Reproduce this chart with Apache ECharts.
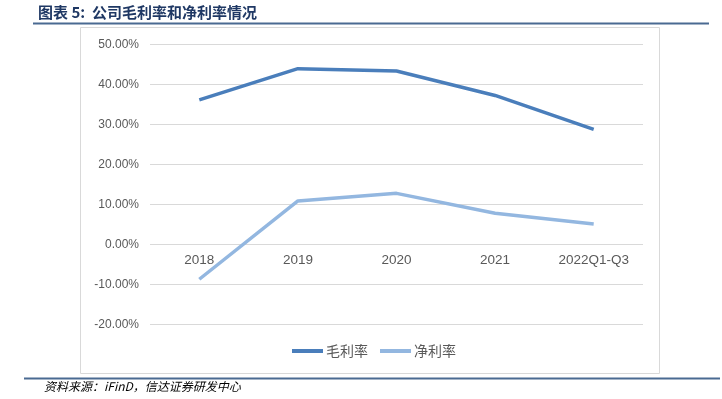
<!DOCTYPE html>
<html>
<head>
<meta charset="utf-8">
<script src="https://cdn.jsdelivr.net/npm/echarts@6/dist/echarts.min.js"></script>
<style>
  html, body { margin: 0; padding: 0; background: #fff; }
  #chart { width: 722px; height: 399px; }
</style>
</head>
<body>
<div id="chart"></div>
<script>
// chart data (percent)
var years = ['2018', '2019', '2020', '2021', '2022Q1-Q3'];
var grossMargin = [36.2, 44.0, 43.4, 37.3, 28.8];
var netMargin = [-8.7, 10.9, 12.8, 7.8, 5.1];
var seriesNames = ['毛利率', '净利率'];
var titleText = '图表 5:  公司毛利率和净利率情况';
var sourceText = '资料来源：iFinD，信达证券研发中心';

function renderMarginChart(chartDivId) {
    var chart = echarts.init(document.getElementById(chartDivId));
    var labelColor = '#595959';

    var options = {
        animation: false,
        color: ['#4a7ebb', '#93b7e0'],
        graphic: [
            {
                type: 'text', left: 38, top: 5,
                style: { text: titleText, fill: '#1f3864', font: 'bold 15px "Noto Sans CJK SC"' }
            },
            {
                type: 'line', shape: { x1: 33, y1: 23.5, x2: 709, y2: 23.5 },
                style: { stroke: '#4a6a92', lineWidth: 2 }
            },
            {
                type: 'rect', shape: { x: 80.5, y: 27.5, width: 579, height: 346 },
                style: { fill: 'none', stroke: '#d9d9d9', lineWidth: 1 }
            },
            {
                type: 'line', shape: { x1: 24, y1: 378.5, x2: 720, y2: 378.5 },
                style: { stroke: '#4a6a92', lineWidth: 2 }
            },
            {
                type: 'text', left: 44, top: 380,
                style: { text: sourceText, fill: '#000', font: 'italic 12px "Noto Sans CJK SC"' }
            }
        ],
        legend: {
            data: seriesNames,
            bottom: 36,
            left: 287,
            itemWidth: 31,
            itemHeight: 4,
            itemGap: 12,
            icon: 'rect',
            textStyle: { color: labelColor, fontSize: 14, fontFamily: '"Noto Sans CJK SC"', padding: [0, 0, 0, -2] }
        },
        grid: {
            left: 150,
            right: 79,
            top: 44.7,
            bottom: 74.6
        },
        xAxis: {
            type: 'category',
            data: years,
            // labels sit on the 0% line, two steps above the bottom
            offset: -79.9,
            axisLine: { onZero: false, show: false },
            axisTick: { show: false },
            axisLabel: { color: labelColor, fontSize: 13.5, fontFamily: 'Liberation Sans', margin: 9 }
        },
        yAxis: {
            type: 'value',
            min: -20,
            max: 50,
            interval: 10,
            axisLine: { show: false },
            axisTick: { show: false },
            splitLine: { lineStyle: { color: '#d9d9d9', width: 1 } },
            axisLabel: {
                color: labelColor,
                fontSize: 12,
                fontFamily: 'Liberation Sans',
                margin: 11,
                formatter: function (v) { return v.toFixed(2) + '%'; }
            }
        },
        series: [
            {
                name: seriesNames[0],
                type: 'line',
                data: grossMargin,
                symbol: 'none',
                lineStyle: { width: 3.5 }
            },
            {
                name: seriesNames[1],
                type: 'line',
                data: netMargin,
                symbol: 'none',
                lineStyle: { width: 3.5 }
            }
        ]
    };

    chart.setOption(options);
}

renderMarginChart('chart');
</script>
</body>
</html>
